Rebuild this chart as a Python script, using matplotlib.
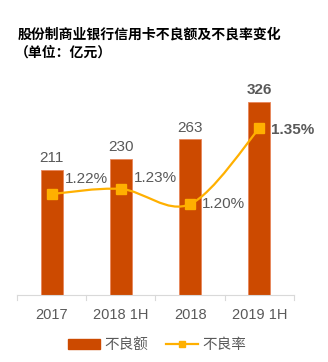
import matplotlib
matplotlib.use('Agg')
import matplotlib.pyplot as plt
from matplotlib.path import Path
from matplotlib.patches import PathPatch
from matplotlib.lines import Line2D
from matplotlib.patches import Patch

plt.rcParams['font.family'] = ['Liberation Sans', 'Noto Sans CJK SC']

# data
periods = ['2017', '2018 1H', '2018', '2019 1H']
npl_amount = [211, 230, 263, 326]        # 不良额, 亿元
npl_rate = [1.22, 1.23, 1.20, 1.35]      # 不良率, %

bar_color = '#CC4A00'
line_color = '#FFB000'
text_color = '#595959'

fig = plt.figure(figsize=(3.28, 3.62), dpi=100)
ax = fig.add_axes([0.052, 0.185, 0.844, 0.572])
x = list(range(len(periods)))

ax.bar(x, npl_amount, width=0.32, color=bar_color, edgecolor='#E8865A', linewidth=0.6, zorder=2)
ax.set_xlim(-0.5, 3.5)
ax.set_ylim(0, 350)
ax.set_yticks([])
for s in ['top', 'right', 'left']:
    ax.spines[s].set_visible(False)
ax.spines['bottom'].set_color('#D9D9D9')
ax.set_xticks(x)
ax.set_xticklabels(periods, fontsize=10.5, color=text_color)
ax.tick_params(axis='x', length=0, pad=9)
# category separators below the axis
for b in [-0.5, 0.5, 1.5, 2.5, 3.5]:
    ax.plot([b, b], [0, -8], color='#D9D9D9', lw=0.8, clip_on=False)

for i, v in enumerate(npl_amount):
    bold = i == len(npl_amount) - 1
    ax.text(i, v + 8, str(v), ha='center', va='bottom', fontsize=11,
            color=text_color, fontweight='bold' if bold else 'normal')

# rate on secondary axis, smooth curve
ax2 = ax.twinx()
ax2.set_ylim(1.02, 1.43)
ax2.set_xlim(-0.5, 3.5)
ax2.axis('off')

pts = list(zip(x, npl_rate))
verts = [pts[0]]
codes = [Path.MOVETO]
for i in range(len(pts) - 1):
    p0 = pts[i - 1] if i > 0 else pts[i]
    p1, p2 = pts[i], pts[i + 1]
    p3 = pts[i + 2] if i + 2 < len(pts) else pts[i + 1]
    c1 = (p1[0] + (p2[0] - p0[0]) / 6, p1[1] + (p2[1] - p0[1]) / 6)
    c2 = (p2[0] - (p3[0] - p1[0]) / 6, p2[1] - (p3[1] - p1[1]) / 6)
    verts += [c1, c2, p2]
    codes += [Path.CURVE4] * 3
ax2.add_patch(PathPatch(Path(verts, codes), fill=False, edgecolor=line_color, lw=1.6, zorder=3))
ax2.plot(x, npl_rate, 's', color=line_color, ms=7, zorder=4)

offsets = [(0.19, 0.03), (0.19, 0.022), (0.17, 0.0), (0.17, -0.003)]
for i, v in enumerate(npl_rate):
    bold = i == len(npl_rate) - 1
    ax2.text(i + offsets[i][0], v + offsets[i][1], f'{v:.2f}%', ha='left', va='center',
             fontsize=11, color=text_color, fontweight='bold' if bold else 'normal')

fig.text(0.055, 0.905, '股份制商业银行信用卡不良额及不良率变化', fontsize=10,
         fontweight='bold', ha='left', va='center', color='black')
fig.text(0.045, 0.855, '（单位：亿元）', fontsize=10,
         fontweight='bold', ha='left', va='center', color='black')

handles = [Patch(facecolor=bar_color, edgecolor=bar_color),
           Line2D([0], [0], color=line_color, marker='s', ms=5, lw=1.6)]
fig.legend(handles, ['不良额', '不良率'], loc='center', bbox_to_anchor=(0.48, 0.047),
           ncol=2, frameon=False, fontsize=10.5, handlelength=2.2, handletextpad=0.3,
           columnspacing=1.2, labelcolor=text_color)

fig.savefig('out.png', dpi=100)
